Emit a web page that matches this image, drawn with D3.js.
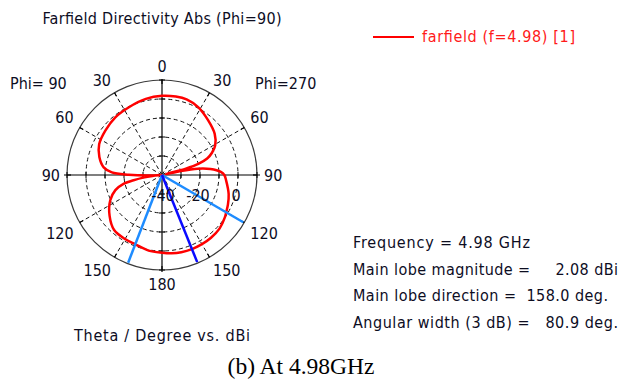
<!DOCTYPE html>
<html><head><meta charset="utf-8">
<script src="https://cdn.jsdelivr.net/npm/d3@7"></script>
<style>
html,body{margin:0;padding:0;background:#fff;}
svg{display:block;}
text{font-family:"DejaVu Sans Condensed","DejaVu Sans",sans-serif;font-stretch:condensed;}
</style></head><body>
<svg id="chart" width="622" height="383"></svg>
<script>
// Directivity cut, phi = 270 half-plane: theta (deg) and dBi, drawn clockwise on the right
const thetaPhi270 = [0, 10, 18, 28, 40, 52, 61, 66, 70, 73, 75, 76.5, 78, 80, 83, 87, 90, 95, 106, 114, 120.2, 124, 133, 142, 150, 158, 166, 173, 180];
const dbiPhi270   = [1.7, 1.95, 1.9, 0.5, -2.3, -4.8, -8.0, -11.2, -14.7, -20, -27, -38, -31, -21, -14.3, -9.0, -7.2, -6.1, -3.5, -2.0, -0.92, -0.1, 1.4, 1.9, 2.05, 2.08, 1.9, 1.5, 0.9];
// phi = 90 half-plane: theta (deg) and dBi, drawn counter-clockwise on the left
const thetaPhi90 = [0, 12, 26, 39, 52, 64, 74, 82.5, 87, 89.5, 92, 94.5, 96, 98, 100.6, 103, 108, 116, 128, 139, 150, 159, 170, 180];
const dbiPhi90   = [1.7, 0.95, -0.3, -0.95, -2.15, -3.2, -5.7, -9.05, -13.6, -22.5, -32, -40, -35, -30, -24.8, -19.2, -14.2, -9.7, -5.0, -1.6, -1.1, -0.92, 0.4, 0.9];

const dbRange = [-40, 10];
const ringTicks = [-30, -20, -10, 0];
const ringLabels = [-40, -20, 0];
const angleTicks = d3.range(0, 360, 30);

const mainLobeDir = 158.0;
const beamEdges = [120.2, 201.1];

const titleText = "Farfield Directivity Abs (Phi=90)";
const legendText = "farfield (f=4.98) [1]";
const axisText = "Theta / Degree vs. dBi";
const captionText = "(b) At 4.98GHz";
const infoLines = [
  "Frequency = 4.98 GHz",
  "Main lobe magnitude =     2.08 dBi",
  "Main lobe direction =  158.0 deg.",
  "Angular width (3 dB) =   80.9 deg."
];
const infoWidths = [177, 265, 255, 265];

const ink = "#0d0d1f";
const svg = d3.select("#chart");
const cx = 162, cy = 175, R = 95;
const rad = d => d * Math.PI / 180;
const r = d3.scaleLinear().domain(dbRange).range([0, R]);
const g = svg.append("g").attr("transform", `translate(${cx},${cy})`);
const px = (a, rr) => rr * Math.sin(rad(a));
const py = (a, rr) => -rr * Math.cos(rad(a));

// dashed level rings
g.selectAll("circle.ring").data(ringTicks).join("circle")
  .attr("r", d => r(d)).attr("fill", "none")
  .attr("stroke", "#111").attr("stroke-width", 1).attr("stroke-dasharray", "4,3");

// dashed spokes every 30 degrees (the four axes are solid)
g.selectAll("line.spoke").data(angleTicks.filter(a => a % 90 !== 0)).join("line")
  .attr("x1", 0).attr("y1", 0)
  .attr("x2", a => px(a, R)).attr("y2", a => py(a, R))
  .attr("stroke", "#111").attr("stroke-width", 1).attr("stroke-dasharray", "4,3");

// outer circle
g.append("circle").attr("r", r(dbRange[1])).attr("fill", "none")
  .attr("stroke", "#3a3a3a").attr("stroke-width", 1.2);

// solid axes
g.append("line").attr("x1", -R - 3).attr("x2", R + 3).attr("y1", 0).attr("y2", 0)
  .attr("stroke", "#000").attr("stroke-width", 1.2);
g.append("line").attr("y1", -R - 1).attr("y2", R + 2).attr("x1", 0).attr("x2", 0)
  .attr("stroke", "#000").attr("stroke-width", 1.2);

// ticks on the axes at every ring
const axisTicks = ringTicks.concat([dbRange[1]]);
axisTicks.forEach(d => {
  const rr = r(d);
  [rr, -rr].forEach(x =>
    g.append("line").attr("x1", x).attr("x2", x).attr("y1", -3).attr("y2", 3).attr("stroke", "#000"));
  [rr, -rr].forEach(y =>
    g.append("line").attr("y1", y).attr("y2", y).attr("x1", -3).attr("x2", 3).attr("stroke", "#000"));
});
// ticks on the outer circle
g.selectAll("line.otick").data(angleTicks).join("line")
  .attr("x1", a => px(a, R - 4)).attr("y1", a => py(a, R - 4))
  .attr("x2", a => px(a, R)).attr("y2", a => py(a, R))
  .attr("stroke", "#000").attr("stroke-width", 1.2);

// pattern trace: right half clockwise, left half continues back to the top
const pts = thetaPhi270.map((t, i) => [t, dbiPhi270[i]]);
for (let i = thetaPhi90.length - 2; i >= 1; i--) pts.push([360 - thetaPhi90[i], dbiPhi90[i]]);
const radial = d3.lineRadial()
  .angle(d => rad(d[0]))
  .radius(d => r(d[1]))
  .curve(d3.curveCatmullRomClosed.alpha(0.5));
g.append("path").attr("d", radial(pts)).attr("fill", "none")
  .attr("stroke", "#ff0000").attr("stroke-width", 2.5).attr("stroke-linejoin", "round");

// beamwidth edges and main lobe direction
const ray = (a, color) => g.append("line").attr("x1", 0).attr("y1", 0)
  .attr("x2", px(a, R - 1)).attr("y2", py(a, R - 1))
  .attr("stroke", color).attr("stroke-width", 2.5);
beamEdges.forEach(a => ray(a, "#1e8cff"));
ray(mainLobeDir, "#0a0aff");

// angle labels: the text box touches a point just outside the rim
const fs = 16;
g.selectAll("text.ang").data(angleTicks).join("text")
  .attr("font-size", fs).attr("fill", ink).attr("text-anchor", "middle")
  .text(a => a <= 180 ? a : 360 - a)
  .each(function(a) {
    const w = this.getComputedTextLength();
    const s = Math.sin(rad(a)), c = Math.cos(rad(a));
    const sx = Math.abs(s) < 1e-6 ? 0 : Math.sign(s);
    const sy = Math.abs(c) < 1e-6 ? 0 : Math.sign(c);
    const x = px(a, R + 7) + sx * w / 2;
    const y = py(a, R + 7) - sy * 7;
    d3.select(this).attr("x", x).attr("y", y + 6);
  });

// level labels along the right horizontal axis
g.selectAll("text.lvl").data(ringLabels).join("text")
  .attr("font-size", fs).attr("fill", ink).attr("text-anchor", "middle")
  .attr("x", d => r(d) + (d === dbRange[0] ? 1 : -2)).attr("y", 26)
  .text(d => d);

// titles and annotations
svg.append("text").attr("x", cx).attr("y", 24).attr("text-anchor", "middle")
  .attr("font-size", fs).attr("fill", ink)
  .attr("textLength", 239).attr("lengthAdjust", "spacing").text(titleText);
svg.append("text").attr("x", 10).attr("y", 89).attr("font-size", fs).attr("fill", ink).text("Phi= 90");
svg.append("text").attr("x", 255).attr("y", 89).attr("font-size", fs).attr("fill", ink).text("Phi=270");
svg.append("text").attr("x", cx).attr("y", 341).attr("text-anchor", "middle")
  .attr("font-size", fs).attr("fill", ink)
  .attr("textLength", 176).attr("lengthAdjust", "spacing").text(axisText);

// legend
svg.append("line").attr("x1", 373).attr("x2", 414).attr("y1", 37).attr("y2", 37)
  .attr("stroke", "#ff0000").attr("stroke-width", 2);
svg.append("text").attr("x", 422).attr("y", 42).attr("font-size", fs).attr("fill", "#ff1a1a")
  .attr("textLength", 153).attr("lengthAdjust", "spacing").text(legendText);

// summary block
svg.selectAll("text.info").data(infoLines).join("text")
  .attr("x", 353).attr("y", (d, i) => 248 + i * 26.7)
  .attr("font-size", fs).attr("fill", ink).style("white-space", "pre")
  .attr("textLength", (d, i) => infoWidths[i]).attr("lengthAdjust", "spacing")
  .text(d => d);

// figure caption
svg.append("text").attr("x", 301).attr("y", 374).attr("text-anchor", "middle")
  .style("font-family", "'Liberation Serif','Times New Roman',serif").style("font-stretch", "normal")
  .attr("font-size", 23.5).attr("fill", "#000").text(captionText);
</script>
</body></html>
